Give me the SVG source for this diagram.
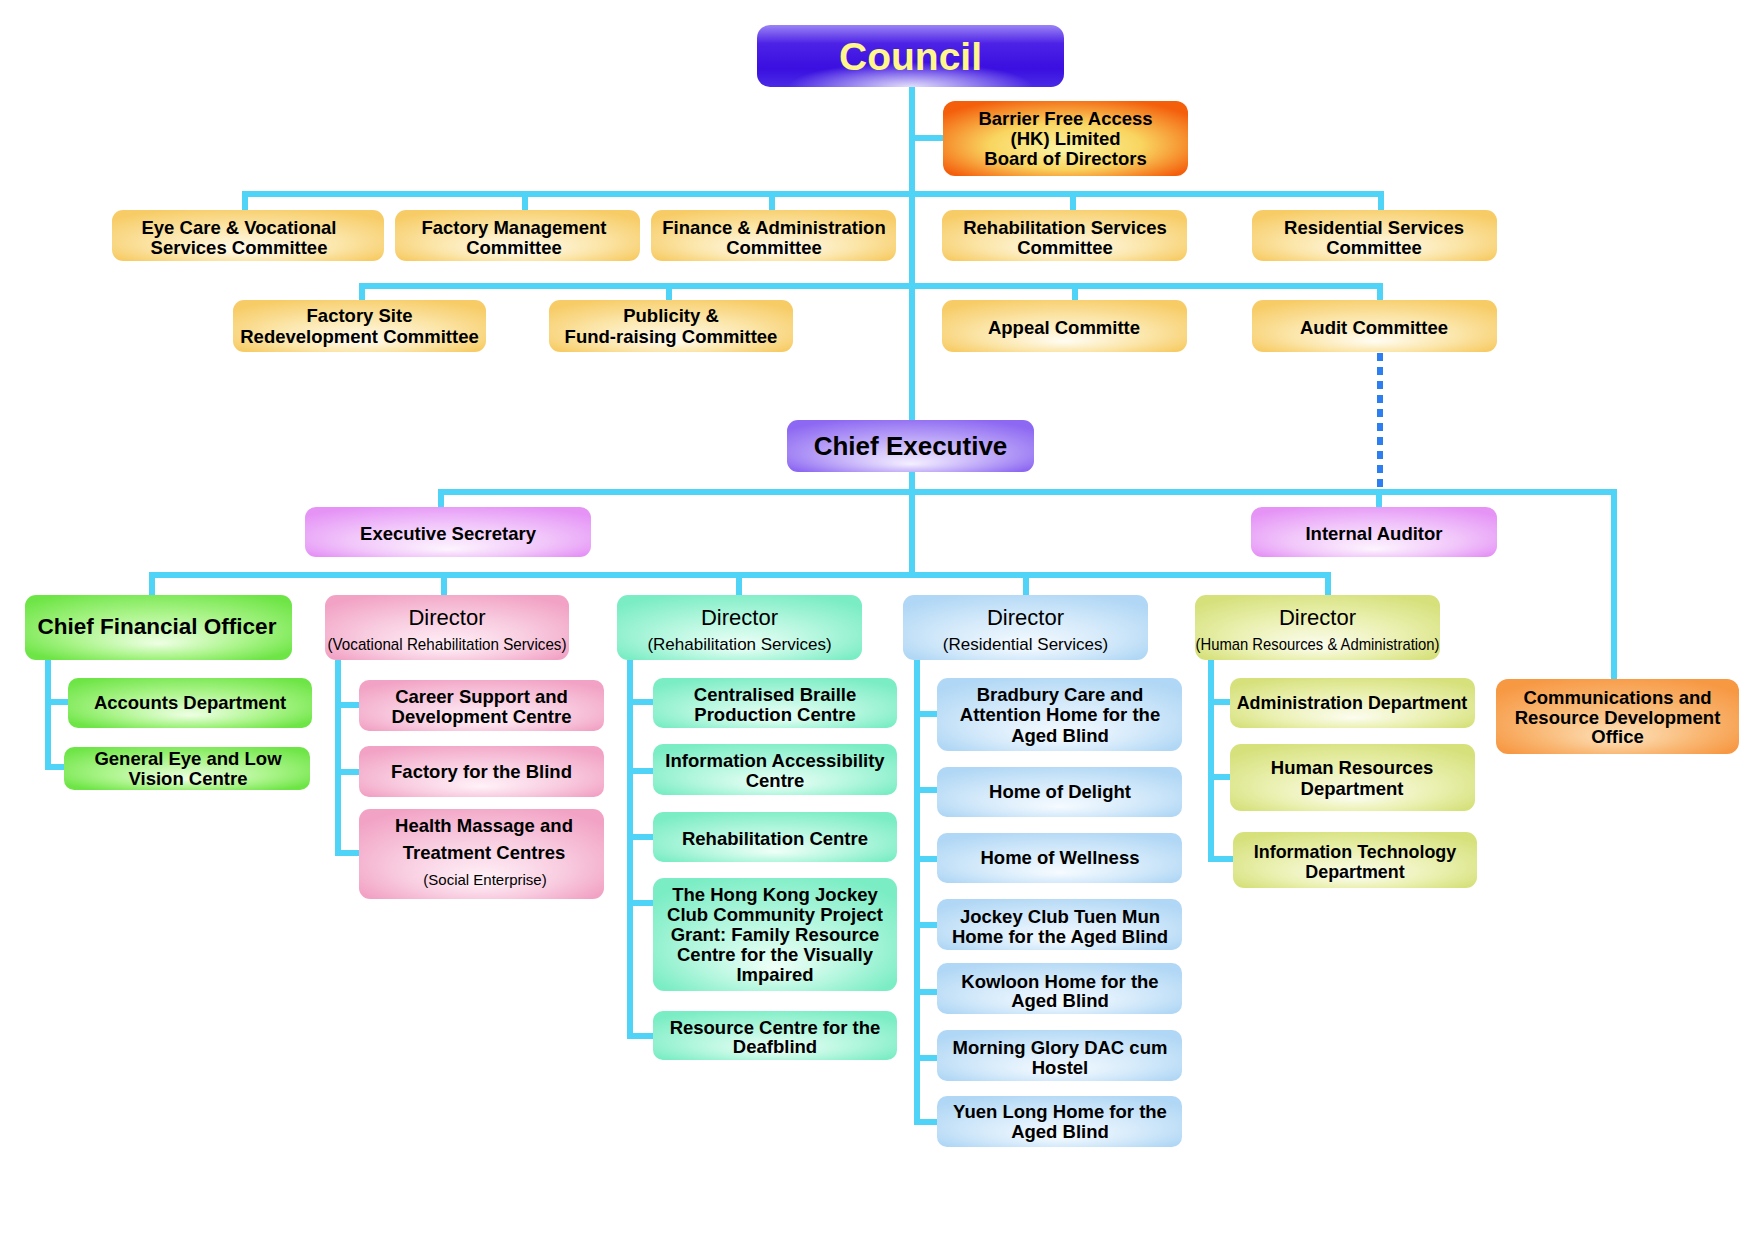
<svg xmlns="http://www.w3.org/2000/svg" width="1754" height="1241" viewBox="0 0 1754 1241">
<defs>
<style>
.c{fill:none;stroke:#4fd4f7;stroke-width:6;stroke-linecap:butt;stroke-linejoin:miter}
.dot{fill:none;stroke:#2d7ef0;stroke-width:6;stroke-dasharray:8 6}
text{font-family:"Liberation Sans",Arial,Helvetica,sans-serif;fill:#000;text-anchor:middle}
.b{font-weight:bold;font-size:18.5px}
.b18{font-weight:bold;font-size:17.9px}
.dir{font-size:22px}
.sub{font-size:17px}
.sm{font-size:15px}
</style>
<linearGradient id="gCouncil" x1="0" y1="0" x2="0" y2="1">
<stop offset="0" stop-color="#9a84f6"/>
<stop offset="0.3" stop-color="#4d22e6"/>
<stop offset="0.7" stop-color="#3a0fe0"/>
<stop offset="1" stop-color="#4a2ae6"/>
</linearGradient>
<radialGradient id="gGlow" cx="50%" cy="100%" r="40%">
<stop offset="0" stop-color="#ffffff" stop-opacity="0.85"/>
<stop offset="1" stop-color="#ffffff" stop-opacity="0"/>
</radialGradient>
<radialGradient id="gBarrier" cx="50%" cy="55%" r="62%" fx="50%" fy="65%">
<stop offset="0" stop-color="#fbf6a8"/>
<stop offset="0.5" stop-color="#f9d560"/>
<stop offset="1" stop-color="#f45f0c"/>
</radialGradient>
<radialGradient id="gGold" cx="50%" cy="55%" r="62%" fx="50%" fy="80%">
<stop offset="0" stop-color="#fffcf2"/>
<stop offset="0.55" stop-color="#fbe5a8"/>
<stop offset="1" stop-color="#f7cc66"/>
</radialGradient>
<radialGradient id="gCE" cx="50%" cy="55%" r="62%" fx="50%" fy="85%">
<stop offset="0" stop-color="#f4efff"/>
<stop offset="0.55" stop-color="#bca6f8"/>
<stop offset="1" stop-color="#8d68f2"/>
</radialGradient>
<radialGradient id="gViolet" cx="50%" cy="55%" r="62%" fx="50%" fy="85%">
<stop offset="0" stop-color="#fdf4fe"/>
<stop offset="0.55" stop-color="#f1c6fa"/>
<stop offset="1" stop-color="#e594f6"/>
</radialGradient>
<radialGradient id="gGreen" cx="50%" cy="50%" r="62%" fx="50%" fy="75%">
<stop offset="0" stop-color="#eeffe4"/>
<stop offset="0.55" stop-color="#a9f488"/>
<stop offset="1" stop-color="#6ee546"/>
</radialGradient>
<radialGradient id="gPink" cx="50%" cy="55%" r="62%" fx="50%" fy="80%">
<stop offset="0" stop-color="#fff2f8"/>
<stop offset="0.55" stop-color="#f8cbdf"/>
<stop offset="1" stop-color="#f2a3c5"/>
</radialGradient>
<radialGradient id="gMint" cx="50%" cy="55%" r="62%" fx="50%" fy="80%">
<stop offset="0" stop-color="#effff8"/>
<stop offset="0.55" stop-color="#b0f6dd"/>
<stop offset="1" stop-color="#7aedc4"/>
</radialGradient>
<radialGradient id="gBlue" cx="50%" cy="55%" r="62%" fx="50%" fy="80%">
<stop offset="0" stop-color="#f6fbff"/>
<stop offset="0.55" stop-color="#d3e9fa"/>
<stop offset="1" stop-color="#b0d7f5"/>
</radialGradient>
<radialGradient id="gLime" cx="50%" cy="55%" r="62%" fx="50%" fy="80%">
<stop offset="0" stop-color="#fcfdf0"/>
<stop offset="0.55" stop-color="#eaf0b0"/>
<stop offset="1" stop-color="#d6e17c"/>
</radialGradient>
<radialGradient id="gOrange" cx="50%" cy="55%" r="62%" fx="50%" fy="80%">
<stop offset="0" stop-color="#fde2bc"/>
<stop offset="0.55" stop-color="#f9b874"/>
<stop offset="1" stop-color="#f79843"/>
</radialGradient>
</defs>
<rect width="1754" height="1241" fill="#ffffff"/>

<g id="connectors">
<path class="c" d="M912,87 V575"/>
<path class="c" d="M912,138 H943"/>
<path class="c" d="M245,210 V194 H1381 V210 M525,194 V210 M772,194 V210 M1073,194 V210"/>
<path class="c" d="M362,300 V286 H1380 V300 M669,286 V300 M1075,286 V300"/>
<path class="dot" d="M1380,353 V489"/>
<path class="c" d="M441,507 V492 H1614 V679 M1379,492 V507"/>
<path class="c" d="M152,595 V575 H1328 V595 M444,575 V595 M739,575 V595 M1026,575 V595"/>
<path class="c" d="M48,660 V767 H64 M48,702 H68"/>
<path class="c" d="M338,660 V853 H359 M338,705 H359 M338,772 H359"/>
<path class="c" d="M630,660 V1036 H653 M630,702 H653 M630,771 H653 M630,837 H653 M630,903 H653"/>
<path class="c" d="M917,660 V1122 H937 M917,714 H937 M917,790 H937 M917,859 H937 M917,925 H937 M917,992 H937 M917,1058 H937"/>
<path class="c" d="M1211,660 V859 H1233 M1211,702 H1230 M1211,777 H1230"/>
</g>

<g id="council">
<rect x="757" y="25" width="307" height="62" rx="13" fill="url(#gCouncil)"/>
<rect x="757" y="25" width="307" height="62" rx="13" fill="url(#gGlow)"/>
<text x="910.5" y="70" style="font-weight:bold;font-size:39px;fill:#fff68c">Council</text>
</g>
<g id="barrier-free">
<rect x="943" y="101" width="245" height="75" rx="12" fill="url(#gBarrier)"/>
<text class="b" x="1065.5" y="125">Barrier Free Access</text>
<text class="b" x="1065.5" y="145">(HK) Limited</text>
<text class="b" x="1065.5" y="165">Board of Directors</text>
</g>
<g id="eye-care-committee">
<rect x="112" y="210" width="272" height="51" rx="11" fill="url(#gGold)"/>
<text class="b" x="239" y="234">Eye Care &amp; Vocational</text>
<text class="b" x="239" y="254">Services Committee</text>
</g>
<g id="factory-management-committee">
<rect x="395" y="210" width="245" height="51" rx="11" fill="url(#gGold)"/>
<text class="b" x="514" y="234">Factory Management</text>
<text class="b" x="514" y="254">Committee</text>
</g>
<g id="finance-committee">
<rect x="651" y="210" width="245" height="51" rx="11" fill="url(#gGold)"/>
<text class="b" x="774" y="234">Finance &amp; Administration</text>
<text class="b" x="774" y="254">Committee</text>
</g>
<g id="rehab-services-committee">
<rect x="942" y="210" width="245" height="51" rx="11" fill="url(#gGold)"/>
<text class="b" x="1065" y="234">Rehabilitation Services</text>
<text class="b" x="1065" y="254">Committee</text>
</g>
<g id="residential-services-committee">
<rect x="1252" y="210" width="245" height="51" rx="11" fill="url(#gGold)"/>
<text class="b" x="1374" y="234">Residential Services</text>
<text class="b" x="1374" y="254">Committee</text>
</g>
<g id="factory-site-committee">
<rect x="233" y="300" width="253" height="52" rx="11" fill="url(#gGold)"/>
<text class="b" x="359.5" y="322">Factory Site</text>
<text class="b" x="359.5" y="343">Redevelopment Committee</text>
</g>
<g id="publicity-committee">
<rect x="549" y="300" width="244" height="52" rx="11" fill="url(#gGold)"/>
<text class="b" x="671" y="322">Publicity &amp;</text>
<text class="b" x="671" y="343">Fund-raising Committee</text>
</g>
<g id="appeal-committee">
<rect x="942" y="300" width="245" height="52" rx="11" fill="url(#gGold)"/>
<text class="b" x="1064" y="334">Appeal Committe</text>
</g>
<g id="audit-committee">
<rect x="1252" y="300" width="245" height="52" rx="11" fill="url(#gGold)"/>
<text class="b" x="1374" y="334">Audit Committee</text>
</g>
<g id="chief-executive">
<rect x="787" y="420" width="247" height="52" rx="11" fill="url(#gCE)"/>
<text x="910.5" y="455" style="font-weight:bold;font-size:26px">Chief Executive</text>
</g>
<g id="executive-secretary">
<rect x="305" y="507" width="286" height="50" rx="11" fill="url(#gViolet)"/>
<text class="b" x="448" y="540">Executive Secretary</text>
</g>
<g id="internal-auditor">
<rect x="1251" y="507" width="246" height="50" rx="11" fill="url(#gViolet)"/>
<text class="b" x="1374" y="540">Internal Auditor</text>
</g>
<g id="cfo">
<rect x="25" y="595" width="267" height="65" rx="11" fill="url(#gGreen)"/>
<text x="157" y="634" style="font-weight:bold;font-size:22.5px">Chief Financial Officer</text>
</g>
<g id="director-vocational">
<rect x="325" y="595" width="244" height="65" rx="11" fill="url(#gPink)"/>
<text class="dir" x="447" y="625">Director</text>
<text class="sub" x="447" y="650" textLength="239" lengthAdjust="spacingAndGlyphs">(Vocational Rehabilitation Services)</text>
</g>
<g id="director-rehabilitation">
<rect x="617" y="595" width="245" height="65" rx="11" fill="url(#gMint)"/>
<text class="dir" x="739.5" y="625">Director</text>
<text class="sub" x="739.5" y="650">(Rehabilitation Services)</text>
</g>
<g id="director-residential">
<rect x="903" y="595" width="245" height="65" rx="11" fill="url(#gBlue)"/>
<text class="dir" x="1025.5" y="625">Director</text>
<text class="sub" x="1025.5" y="650">(Residential Services)</text>
</g>
<g id="director-hr">
<rect x="1195" y="595" width="245" height="65" rx="11" fill="url(#gLime)"/>
<text class="dir" x="1317.5" y="625">Director</text>
<text class="sub" x="1317.5" y="650" textLength="244" lengthAdjust="spacingAndGlyphs">(Human Resources &amp; Administration)</text>
</g>
<g id="accounts-department">
<rect x="68" y="678" width="244" height="50" rx="10" fill="url(#gGreen)"/>
<text class="b" x="190" y="709">Accounts Department</text>
</g>
<g id="general-eye-centre">
<rect x="64" y="747" width="246" height="43" rx="10" fill="url(#gGreen)"/>
<text class="b" x="188" y="765">General Eye and Low</text>
<text class="b" x="188" y="785">Vision Centre</text>
</g>
<g id="career-support-centre">
<rect x="359" y="680" width="245" height="51" rx="10" fill="url(#gPink)"/>
<text class="b" x="481.5" y="703">Career Support and</text>
<text class="b" x="481.5" y="723">Development Centre</text>
</g>
<g id="factory-for-the-blind">
<rect x="359" y="746" width="245" height="51" rx="10" fill="url(#gPink)"/>
<text class="b" x="481.5" y="778">Factory for the Blind</text>
</g>
<g id="health-massage-centres">
<rect x="359" y="809" width="245" height="90" rx="11" fill="url(#gPink)"/>
<text class="b" x="484" y="832">Health Massage and</text>
<text class="b" x="484" y="859">Treatment Centres</text>
<text class="sm" x="485" y="885">(Social Enterprise)</text>
</g>
<g id="braille-production-centre">
<rect x="653" y="678" width="244" height="50" rx="10" fill="url(#gMint)"/>
<text class="b" x="775" y="701">Centralised Braille</text>
<text class="b" x="775" y="721">Production Centre</text>
</g>
<g id="information-accessibility-centre">
<rect x="653" y="744" width="244" height="51" rx="10" fill="url(#gMint)"/>
<text class="b" x="775" y="767">Information Accessibility</text>
<text class="b" x="775" y="787">Centre</text>
</g>
<g id="rehabilitation-centre">
<rect x="653" y="812" width="244" height="50" rx="10" fill="url(#gMint)"/>
<text class="b" x="775" y="845">Rehabilitation Centre</text>
</g>
<g id="family-resource-centre">
<rect x="653" y="878" width="244" height="113" rx="11" fill="url(#gMint)"/>
<text class="b" x="775" y="901">The Hong Kong Jockey</text>
<text class="b" x="775" y="921">Club Community Project</text>
<text class="b" x="775" y="941">Grant: Family Resource</text>
<text class="b" x="775" y="961">Centre for the Visually</text>
<text class="b" x="775" y="981">Impaired</text>
</g>
<g id="deafblind-resource-centre">
<rect x="653" y="1011" width="244" height="49" rx="10" fill="url(#gMint)"/>
<text class="b" x="775" y="1034">Resource Centre for the</text>
<text class="b" x="775" y="1053">Deafblind</text>
</g>
<g id="bradbury-home">
<rect x="937" y="678" width="245" height="73" rx="11" fill="url(#gBlue)"/>
<text class="b" x="1060" y="701">Bradbury Care and</text>
<text class="b" x="1060" y="721">Attention Home for the</text>
<text class="b" x="1060" y="742">Aged Blind</text>
</g>
<g id="home-of-delight">
<rect x="937" y="767" width="245" height="50" rx="10" fill="url(#gBlue)"/>
<text class="b" x="1060" y="798">Home of Delight</text>
</g>
<g id="home-of-wellness">
<rect x="937" y="833" width="245" height="50" rx="10" fill="url(#gBlue)"/>
<text class="b" x="1060" y="864">Home of Wellness</text>
</g>
<g id="tuen-mun-home">
<rect x="937" y="899" width="245" height="51" rx="10" fill="url(#gBlue)"/>
<text class="b" x="1060" y="923">Jockey Club Tuen Mun</text>
<text class="b" x="1060" y="943">Home for the Aged Blind</text>
</g>
<g id="kowloon-home">
<rect x="937" y="963" width="245" height="51" rx="10" fill="url(#gBlue)"/>
<text class="b" x="1060" y="988">Kowloon Home for the</text>
<text class="b" x="1060" y="1007">Aged Blind</text>
</g>
<g id="morning-glory">
<rect x="937" y="1030" width="245" height="51" rx="10" fill="url(#gBlue)"/>
<text class="b" x="1060" y="1054">Morning Glory DAC cum</text>
<text class="b" x="1060" y="1074">Hostel</text>
</g>
<g id="yuen-long-home">
<rect x="937" y="1096" width="245" height="51" rx="10" fill="url(#gBlue)"/>
<text class="b" x="1060" y="1118">Yuen Long Home for the</text>
<text class="b" x="1060" y="1138">Aged Blind</text>
</g>
<g id="administration-department">
<rect x="1230" y="678" width="245" height="50" rx="10" fill="url(#gLime)"/>
<text class="b18" x="1352" y="709">Administration Department</text>
</g>
<g id="human-resources-department">
<rect x="1230" y="744" width="245" height="67" rx="11" fill="url(#gLime)"/>
<text class="b" x="1352" y="774">Human Resources</text>
<text class="b" x="1352" y="795">Department</text>
</g>
<g id="it-department">
<rect x="1233" y="832" width="244" height="56" rx="11" fill="url(#gLime)"/>
<text class="b18" x="1355" y="858">Information Technology</text>
<text class="b18" x="1355" y="878">Department</text>
</g>
<g id="communications-office">
<rect x="1496" y="679" width="243" height="75" rx="12" fill="url(#gOrange)"/>
<text class="b" x="1617.5" y="704">Communications and</text>
<text class="b" x="1617.5" y="724">Resource Development</text>
<text class="b" x="1617.5" y="743">Office</text>
</g>
</svg>
